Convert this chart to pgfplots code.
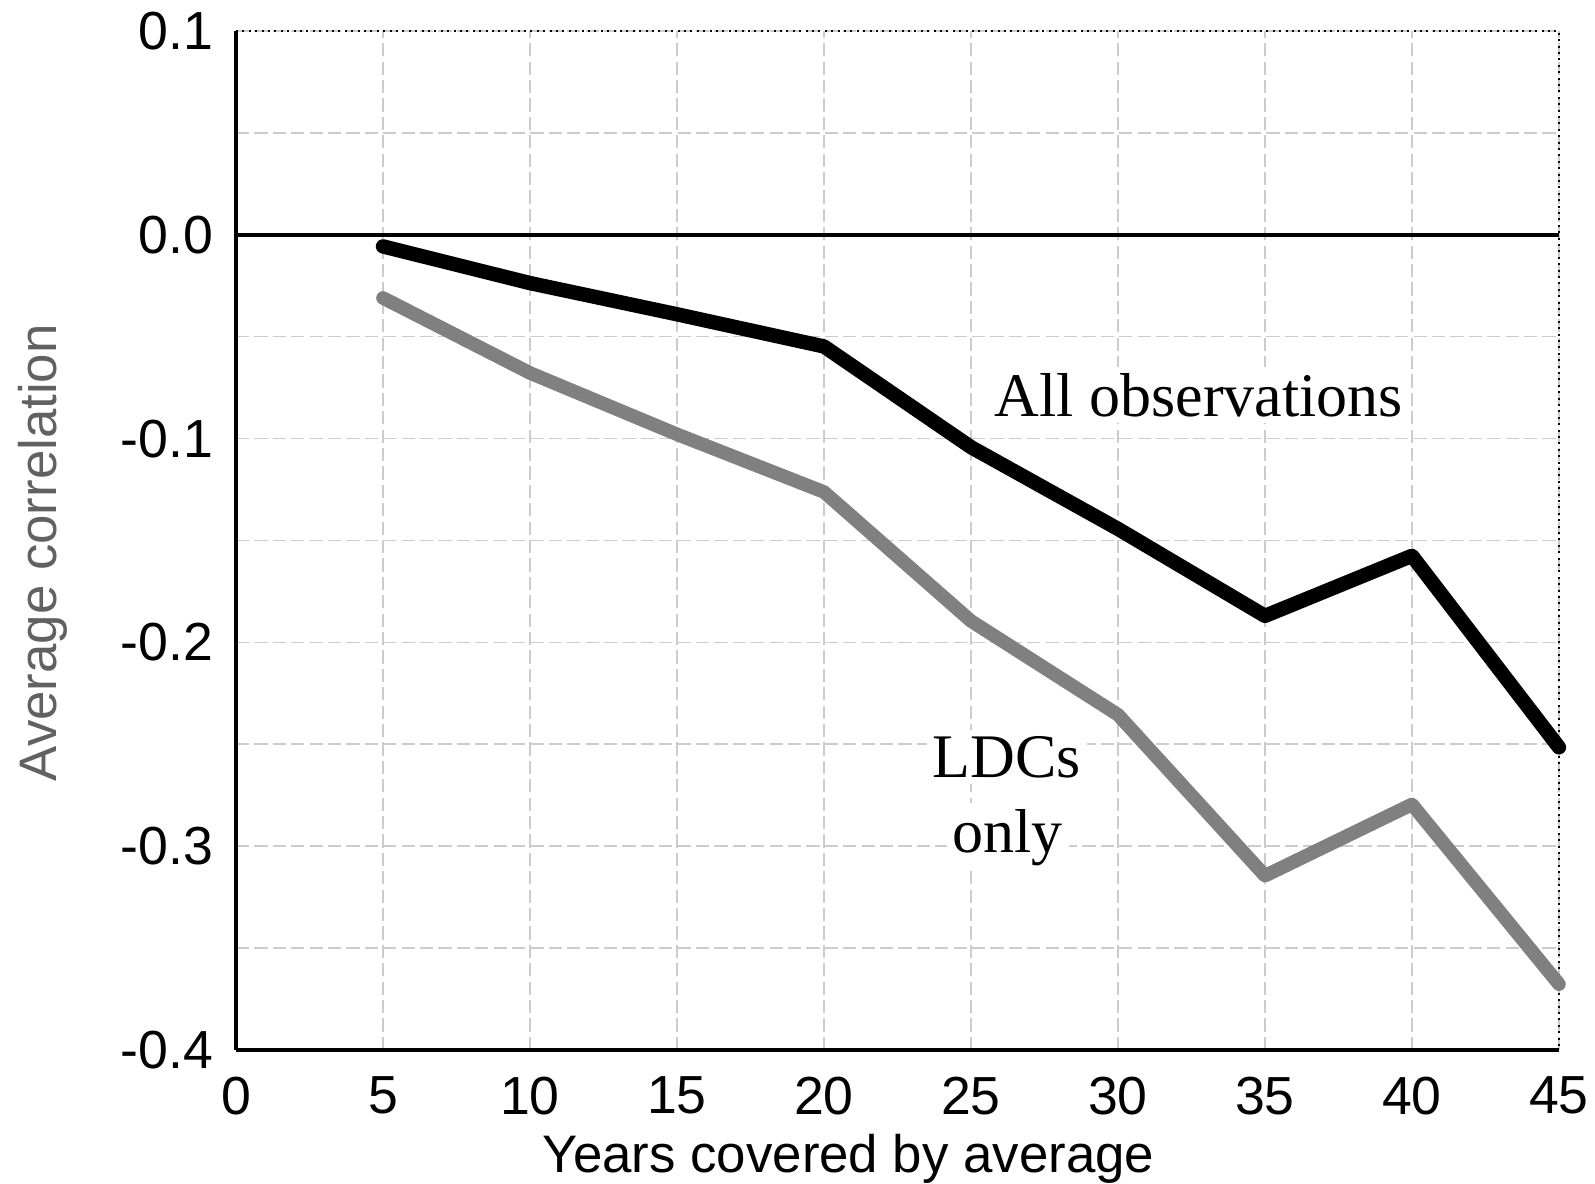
\documentclass[border=0pt]{standalone}
\usepackage{fontspec}
\setmainfont{Liberation Sans}
\newfontfamily\timesfont{Liberation Serif}
\usepackage{pgfplots}
\pgfplotsset{compat=1.18}
\begin{document}
\begin{tikzpicture}
\path[use as bounding box] (-59pt,-33.5pt) rectangle (339.75pt,262.5pt);
\begin{axis}[
    at={(0pt,0pt)}, anchor=south west,
    scale only axis, width=330.75pt, height=254.75pt,
    xmin=0, xmax=45, ymin=-0.4, ymax=0.1,
    clip=false,
    axis lines*=left,
    axis line style={line width=1.1pt, -},
    % ticks
    xtick={0,5,10,15,20,25,30,35,40,45},
    ytick={-0.4,-0.3,-0.2,-0.1,0,0.1},
    yticklabels={-0.4,-0.3,-0.2,-0.1,0.0,0.1},
    minor y tick num=1,
    major tick length=0pt, minor tick length=0pt,
    /pgf/number format/assume math mode=true,
    tick label style={font=\fontsize{13.4}{15}\selectfont, inner sep=0pt},
    xticklabel style={yshift=-6.5pt},
    yticklabel style={xshift=-5.5pt},
    % grid
    xmajorgrids, ymajorgrids, yminorgrids,
    grid style={dash pattern=on 3.3pt off 1.3pt, black!20, line width=0.4pt},
    % labels
    xlabel={Years covered by average},
    ylabel={Average correlation},
    xlabel style={at={(axis description cs:0.463,-0.1207)}, anchor=base,
        font=\fontsize{13.2}{15}\selectfont, text=black},
    ylabel style={at={(axis description cs:-0.1353,0.488)}, anchor=base,
        font=\fontsize{13.2}{15}\selectfont, text=black!62},
  ]
  % frame: dotted top and right
  \draw[line width=0.5pt, dash pattern=on 0.5pt off 1.1pt]
    (rel axis cs:0,1) -- (rel axis cs:1,1) -- (rel axis cs:1,0);
  % zero line
  \addplot[black, line width=0.9pt] coordinates {(0,0) (45,0)};

  % LDCs only
  \addplot[color={rgb,255:red,128;green,128;blue,128}, line width=3.4pt,
           line cap=round, line join=round] coordinates {
      (5,-0.031) (10,-0.0678) (15,-0.0979) (20,-0.1262) (25,-0.1895)
      (30,-0.2355) (35,-0.3145) (40,-0.2795) (45,-0.3677)
    };
  % All observations
  \addplot[black, line width=3.6pt, line cap=round, line join=round] coordinates {
      (5,-0.0057) (10,-0.0237) (15,-0.039) (20,-0.0548) (25,-0.1042)
      (30,-0.1443) (35,-0.187) (40,-0.1575) (45,-0.2515)
    };

  \node[anchor=base, fill=white, inner sep=1.5pt, font=\timesfont\fontsize{15.5}{18}\selectfont]
    at (axis cs:32.75,-0.089) {All observations};
  \node[anchor=base, fill=white, inner sep=1.5pt, font=\timesfont\fontsize{15.5}{18}\selectfont]
    at (axis cs:26.22,-0.2663) {LDCs};
  \node[anchor=base, fill=white, inner sep=1.5pt, font=\timesfont\fontsize{15.5}{18}\selectfont]
    at (axis cs:26.25,-0.3029) {only};
\end{axis}
\end{tikzpicture}
\end{document}
